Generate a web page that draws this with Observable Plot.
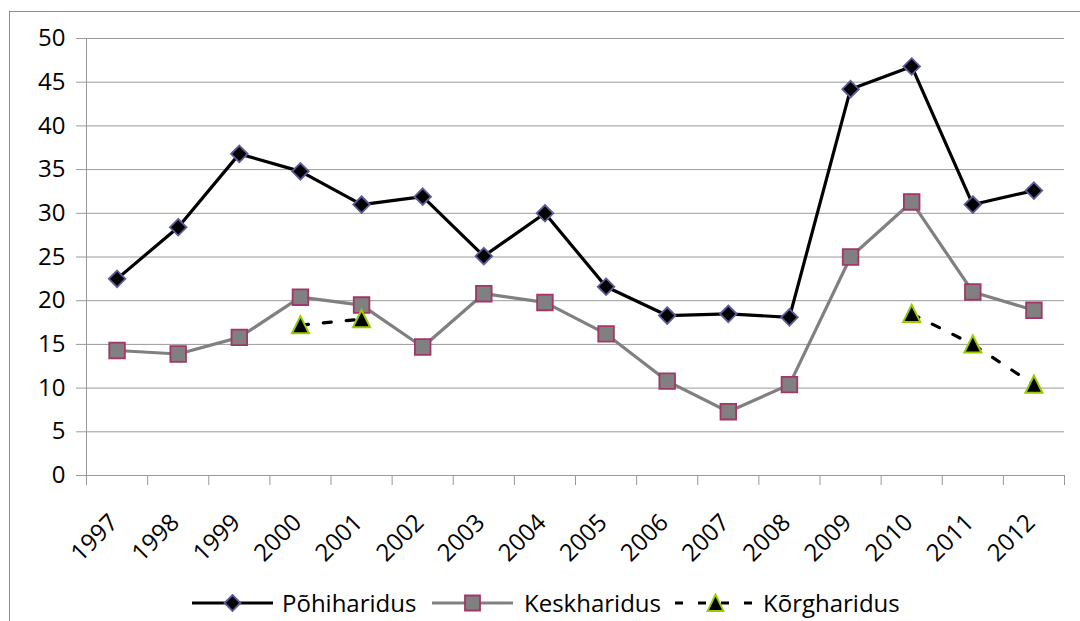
<!DOCTYPE html>
<html>
<head>
<meta charset="utf-8">
<script src="https://cdn.jsdelivr.net/npm/d3@7"></script>
<script src="https://cdn.jsdelivr.net/npm/@observablehq/plot@0.6"></script>
<style>
  html, body { margin: 0; padding: 0; background: #fff; }
  body { width: 1080px; height: 621px; overflow: hidden; position: relative; font-family: "Open Sans", Lato, sans-serif; }
  #frame { position: absolute; left: 9px; top: 11px; width: 1200px; height: 800px; border: 1.5px solid #8c8c8c; box-sizing: border-box; }
  #chart { position: absolute; left: 0; top: 0; }
  #legend { position: absolute; left: 0; top: 580px; width: 1080px; height: 46px; }
  .lg-sample { position: absolute; top: 13px; }
  .lg-text { position: absolute; top: 0; line-height: 46px; font-size: 24px; color: #000; white-space: nowrap; }
</style>
</head>
<body>
<div id="frame"></div>
<div id="chart"></div>
<div id="legend"></div>
<script>
const years = ["1997","1998","1999","2000","2001","2002","2003","2004","2005","2006","2007","2008","2009","2010","2011","2012"];
const pohiharidus = [22.5, 28.4, 36.8, 34.8, 31.0, 31.9, 25.1, 30.0, 21.6, 18.3, 18.5, 18.1, 44.2, 46.8, 31.0, 32.6];
const keskharidus = [14.3, 13.9, 15.8, 20.4, 19.5, 14.7, 20.8, 19.8, 16.2, 10.8, 7.3, 10.4, 25.0, 31.3, 21.0, 18.9];
const korgharidus = [null, null, null, 17.2, 17.9, null, null, null, null, null, null, null, null, 18.5, 15.0, 10.4];
const yTicks = [0, 5, 10, 15, 20, 25, 30, 35, 40, 45, 50];
const seriesNames = ["Põhiharidus", "Keskharidus", "Kõrgharidus"];

const rows = years.map((y, i) => ({i, year: y, x: i + 0.5, p: pohiharidus[i], k: keskharidus[i], g: korgharidus[i]}));
const boundaries = d3.range(years.length + 1);

function shape(points) {
  return { draw(ctx, size) {
    const r = Math.sqrt(size / Math.PI);
    ctx.moveTo(points[0][0] * r, points[0][1] * r);
    for (let j = 1; j < points.length; j++) ctx.lineTo(points[j][0] * r, points[j][1] * r);
    ctx.closePath();
  }};
}
const diamond = shape([[0, -1], [1, 0], [0, 1], [-1, 0]]);
const square = shape([[-1, -1], [1, -1], [1, 1], [-1, 1]]);
const triangle = shape([[0, -1], [0.95, 0.9], [-0.95, 0.9]]);

const gridColor = "#9a9a9a";
const font = "'Open Sans', Lato, sans-serif";

const chart = Plot.plot({
  width: 1080,
  height: 580,
  marginLeft: 86,
  marginRight: 16,
  marginTop: 38,
  marginBottom: 105,
  style: { fontFamily: font, background: "transparent" },
  x: { type: "linear", domain: [0, years.length], axis: null },
  y: { type: "linear", domain: [0, 50], axis: null },
  marks: [
    Plot.ruleY(yTicks, { stroke: gridColor, strokeWidth: 1 }),
    Plot.ruleX([0], { y1: 0, y2: 50, stroke: gridColor, strokeWidth: 1 }),
    Plot.axisY({ ticks: yTicks, tickSize: 10, tickPadding: 11, stroke: gridColor, fill: "black", fontSize: 24, tickFormat: d => String(d), label: null }),
    Plot.axisX({ ticks: boundaries, tickSize: 10, stroke: gridColor, tickFormat: () => "", anchor: "bottom", label: null }),
    Plot.text(rows, { x: "x", y: () => 0, text: "year", rotate: -45, textAnchor: "end", dx: -3, dy: 43, fontSize: 24, fill: "black" }),
    Plot.line(rows, { x: "x", y: "k", stroke: "#808080", strokeWidth: 3.2 }),
    Plot.line(rows, { x: "x", y: "p", stroke: "#000", strokeWidth: 3.2 }),
    Plot.line(rows, { x: "x", y: "g", stroke: "#000", strokeWidth: 3.2, strokeDasharray: "8,15" }),
    Plot.dot(rows, { x: "x", y: "k", symbol: square, r: 7.8, fill: "#808080", stroke: "#a3356a", strokeWidth: 1.8 }),
    Plot.dot(rows, { x: "x", y: "p", symbol: diamond, r: 8.3, fill: "#000", stroke: "#5d5d9c", strokeWidth: 1.8 }),
    Plot.dot(rows.filter(d => d.g != null), { x: "x", y: "g", symbol: triangle, r: 9, fill: "#000", stroke: "#99cc00", strokeWidth: 2 })
  ]
});
document.getElementById("chart").appendChild(chart);

// Legend
const legend = d3.select("#legend");
const legendItems = [
  { name: seriesNames[0], sx: 192, tx: 282, stroke: "#000", dash: null, sym: "diamond", fill: "#000", mstroke: "#5d5d9c" },
  { name: seriesNames[1], sx: 432, tx: 524, stroke: "#808080", dash: null, sym: "square", fill: "#808080", mstroke: "#a3356a" },
  { name: seriesNames[2], sx: 675, tx: 763, stroke: "#000", dash: "8,15", sym: "triangle", fill: "#000", mstroke: "#99cc00" }
];
legendItems.forEach(it => {
  const w = 81;
  const svg = legend.append("svg").attr("class", "lg-sample").attr("width", w).attr("height", 20)
    .style("left", it.sx + "px");
  svg.append("line").attr("x1", 0).attr("x2", w).attr("y1", 10).attr("y2", 10)
    .attr("stroke", it.stroke).attr("stroke-width", 3).attr("stroke-dasharray", it.dash);
  const cx = w / 2, cy = 10;
  let path;
  if (it.sym === "diamond") path = `M${cx},${cy-8}L${cx+8},${cy}L${cx},${cy+8}L${cx-8},${cy}Z`;
  else if (it.sym === "square") path = `M${cx-7.5},${cy-7.5}H${cx+7.5}V${cy+7.5}H${cx-7.5}Z`;
  else path = `M${cx},${cy-8.5}L${cx+8},${cy+8}L${cx-8},${cy+8}Z`;
  svg.append("path").attr("d", path).attr("fill", it.fill).attr("stroke", it.mstroke).attr("stroke-width", 1.8);
  legend.append("div").attr("class", "lg-text").style("left", it.tx + "px").text(it.name);
});
</script>
</body>
</html>
